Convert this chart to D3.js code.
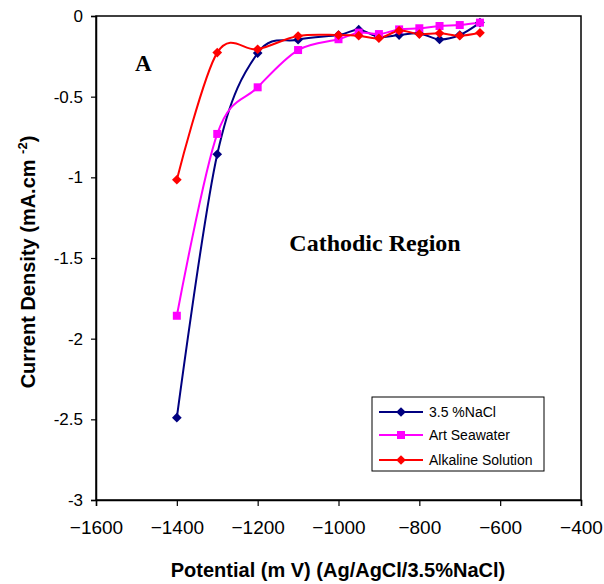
<!DOCTYPE html>
<html lang="en">
<head>
<meta charset="UTF-8">
<title>Cathodic Region</title>
<script src="https://d3js.org/d3.v7.min.js"></script>
<style>
  body { margin: 0; background: #fff; }
  svg { display: block; }
  .tick text { font-family: "Liberation Sans", Arial, sans-serif; font-size: 17px; fill: #000; }
</style>
</head>
<body>
<div id="chart"></div>
<script>
// potential (mV)
const potentials = [-1400, -1300, -1200, -1100, -1000, -950, -900, -850, -800, -750, -700, -650];
// current density (mA.cm-2)
const nacl = [-2.49, -0.857, -0.23, -0.147, -0.118, -0.085, -0.13, -0.118, -0.108, -0.145, -0.118, -0.041];
const seawater = [-1.858, -0.731, -0.442, -0.211, -0.144, -0.103, -0.112, -0.083, -0.076, -0.062, -0.056, -0.041];
const alkaline = [-1.015, -0.227, -0.206, -0.124, -0.118, -0.122, -0.138, -0.091, -0.112, -0.107, -0.122, -0.104];

const xTicks = [-1600, -1400, -1200, -1000, -800, -600, -400];
const yTicks = [0, -0.5, -1, -1.5, -2, -2.5, -3];

const series = [
  { name: "3.5 %NaCl", values: nacl, color: "#000080", marker: "diamond" },
  { name: "Art Seawater", values: seawater, color: "#FF00FF", marker: "square" },
  { name: "Alkaline Solution", values: alkaline, color: "#FF0000", marker: "diamond" }
];

const width = 604, height = 584;
const margin = { left: 96, right: 23, top: 16, bottom: 84 };

const svg = d3.select("#chart").append("svg")
  .attr("width", width)
  .attr("height", height);

const x = d3.scaleLinear().domain([-1600, -400]).range([margin.left, width - margin.right]);
const y = d3.scaleLinear().domain([-3, 0]).range([height - margin.bottom, margin.top]);

// plot frame
svg.append("rect")
  .attr("x", x(-1600)).attr("y", y(0))
  .attr("width", x(-400) - x(-1600)).attr("height", y(-3) - y(0))
  .attr("fill", "none").attr("stroke", "#000").attr("stroke-width", 1.5);

// axes
const xAxis = svg.append("g")
  .attr("transform", `translate(0,${y(-3)})`)
  .call(d3.axisBottom(x).tickValues(xTicks).tickSize(6).tickPadding(12).tickFormat(d3.format("d")));
const yAxis = svg.append("g")
  .attr("transform", `translate(${x(-1600)},0)`)
  .call(d3.axisLeft(y).tickValues(yTicks).tickSize(5).tickPadding(8).tickFormat(d => d === 0 ? "0" : String(d)));
[xAxis, yAxis].forEach(g => {
  g.select(".domain").attr("stroke-width", 1.5);
  g.selectAll(".tick line").attr("stroke-width", 1.2);
});
xAxis.selectAll(".tick text").attr("dy", "0.85em").style("font-size", "19px");

// lines
const line = d3.line()
  .x((d, i) => x(potentials[i]))
  .y(d => y(d))
  .curve(d3.curveCatmullRom.alpha(0));

const diamond = d3.symbol().type(d3.symbolDiamond2).size(60);
const square = d3.symbol().type(d3.symbolSquare).size(64);

series.forEach(s => {
  svg.append("path")
    .attr("d", line(s.values))
    .attr("fill", "none")
    .attr("stroke", s.color)
    .attr("stroke-width", 2);
});
series.forEach(s => {
  svg.append("g").selectAll("path")
    .data(s.values)
    .join("path")
    .attr("transform", (d, i) => `translate(${x(potentials[i])},${y(d)})`)
    .attr("d", s.marker === "diamond" ? diamond() : square())
    .attr("fill", s.color);
});

// axis titles
svg.append("text")
  .attr("x", 338).attr("y", 577)
  .attr("text-anchor", "middle")
  .style("font-family", "Liberation Sans, Arial, sans-serif")
  .style("font-weight", "bold").style("font-size", "20px")
  .text("Potential (m V) (Ag/AgCl/3.5%NaCl)");

const yt = svg.append("text")
  .attr("transform", "translate(35,262) rotate(-90)")
  .attr("text-anchor", "middle")
  .style("font-family", "Liberation Sans, Arial, sans-serif")
  .style("font-weight", "bold").style("font-size", "20px");
yt.append("tspan").text("Current Density (mA.cm  ");
yt.append("tspan").attr("dy", -8).style("font-size", "13px").text("-2");
yt.append("tspan").attr("dy", 8).text(")");

// annotations
svg.append("text")
  .attr("x", 135).attr("y", 71)
  .style("font-family", "Liberation Serif, 'Times New Roman', serif")
  .style("font-weight", "bold").style("font-size", "23px")
  .text("A");
svg.append("text")
  .attr("x", 375).attr("y", 251)
  .attr("text-anchor", "middle")
  .style("font-family", "Liberation Serif, 'Times New Roman', serif")
  .style("font-weight", "bold").style("font-size", "24px")
  .text("Cathodic Region");

// legend
const lg = svg.append("g").attr("transform", "translate(372,397)");
lg.append("rect")
  .attr("width", 172).attr("height", 74)
  .attr("fill", "#fff").attr("stroke", "#000").attr("stroke-width", 1);
const rowY = [15, 38, 63];
series.forEach((s, i) => {
  const ry = rowY[i];
  lg.append("line")
    .attr("x1", 7).attr("x2", 51).attr("y1", ry).attr("y2", ry)
    .attr("stroke", s.color).attr("stroke-width", 2);
  lg.append("path")
    .attr("transform", `translate(29,${ry})`)
    .attr("d", s.marker === "diamond" ? diamond() : square())
    .attr("fill", s.color);
  lg.append("text")
    .attr("x", 57).attr("y", ry).attr("dy", "0.35em")
    .style("font-family", "Liberation Sans, Arial, sans-serif")
    .style("font-size", "14px")
    .text(s.name);
});
</script>
</body>
</html>
